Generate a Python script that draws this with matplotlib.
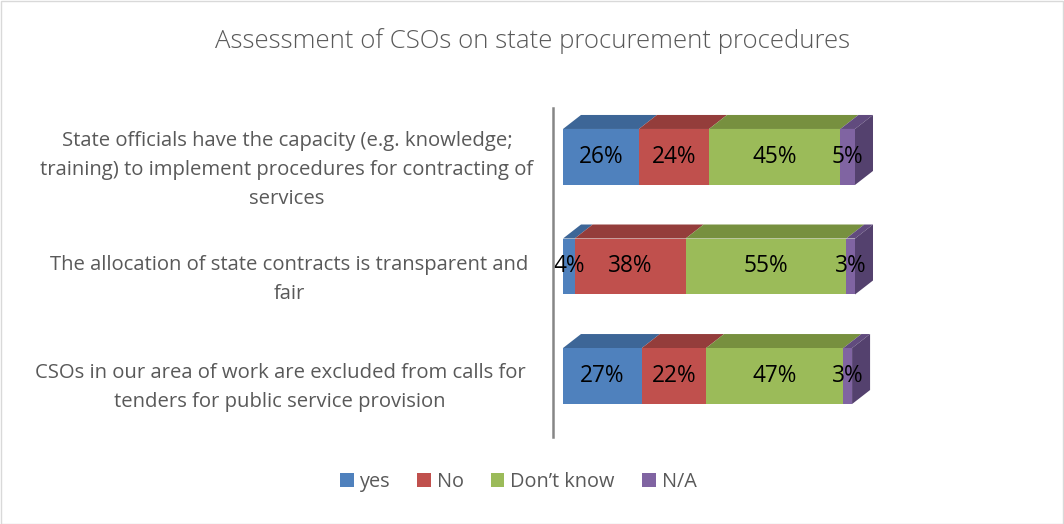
import matplotlib
matplotlib.use("Agg")
import matplotlib.pyplot as plt
from matplotlib.patches import Polygon, Rectangle
from matplotlib.lines import Line2D
import numpy as np

plt.rcParams['font.family'] = ['Open Sans', 'DejaVu Sans']

title = "Assessment of CSOs on state procurement procedures"
series = ["yes", "No", "Don\u2019t know", "N/A"]
cat_lines = [
    ["State officials have the capacity (e.g. knowledge;",
     "training) to implement procedures for contracting of",
     "services"],
    ["The allocation of state contracts is transparent and",
     "fair"],
    ["CSOs in our area of work are excluded from calls for",
     "tenders for public service provision"],
]
yes_vals = [26, 4, 27]
no_vals = [24, 38, 22]
dk_vals = [45, 55, 47]
na_vals = [5, 3, 3]

front = ["#4F81BD", "#C0504D", "#9BBB59", "#8064A2"]
top = ["#3D6697", "#943D3B", "#77903F", "#614B7E"]
side = ["#3D6697", "#943D3B", "#77903F", "#54416E"]

W, H = 1064, 524
fig = plt.figure(figsize=(W / 100, H / 100), dpi=100)
fig.patch.set_facecolor("white")
fig.add_artist(Rectangle((0.5 / W, 0.5 / H), 1 - 1.5 / W, 1 - 1.5 / H,
                         transform=fig.transFigure, fill=False,
                         edgecolor="#D9D9D9", linewidth=1))

# axes spanning the front faces
x0, x1 = 563, 855
ytop, ybot = 100, 440
ax = fig.add_axes([x0 / W, 1 - ybot / H, (x1 - x0) / W, (ybot - ytop) / H])
ax.set_xlim(0, 100)
ax.set_ylim(2.584, -0.52)
ax.axis("off")

bh = 0.511
ddx = 18 / (x1 - x0) * 100
ddy = 14 / 109.5

data = np.array([yes_vals, no_vals, dk_vals, na_vals], dtype=float)
ypos = np.arange(len(cat_lines))
left = np.zeros(len(cat_lines))
for s in range(len(series)):
    vals = data[s]
    ax.barh(ypos, vals, left=left, height=bh, color=front[s], edgecolor="none",
            label=series[s], zorder=2)
    for i in range(len(ypos)):
        l, r = left[i], left[i] + vals[i]
        yt = ypos[i] - bh / 2
        ax.add_patch(Polygon([(l, yt), (r, yt), (r + ddx, yt - ddy), (l + ddx, yt - ddy)],
                             closed=True, facecolor=top[s], edgecolor="none",
                             zorder=1, clip_on=False))
        if s == len(series) - 1:
            yb = ypos[i] + bh / 2
            ax.add_patch(Polygon([(r, yt), (r + ddx, yt - ddy), (r + ddx, yb - ddy), (r, yb)],
                                 closed=True, facecolor=side[s], edgecolor="none",
                                 zorder=3, clip_on=False))
        ax.text((l + r) / 2, ypos[i], f"{int(vals[i])}%", ha="center", va="center",
                fontsize=16.3, color="black", zorder=5, clip_on=False)
    left = left + vals

# vertical axis line
fig.add_artist(Line2D([553 / W, 553 / W], [1 - 108 / H, 1 - 437 / H],
                      transform=fig.transFigure, color="#868686", linewidth=1.8))

# category labels (baselines in px)
label_x = [287, 289, 280]
first_baseline = [146, 270, 378]
line_gap = 29
for i, lines in enumerate(cat_lines):
    for k, t in enumerate(lines):
        yy = first_baseline[i] + k * line_gap
        fig.text(label_x[i] / W, 1 - yy / H, t, ha="center", va="baseline",
                 fontsize=14.6, color="#595959")

fig.text(533 / W, 1 - 48 / H, title, ha="center", va="baseline",
         fontsize=18.5, color="#595959", fontweight="light")

handles = [Rectangle((0, 0), 1, 1, facecolor=c, edgecolor="none") for c in front]
fig.legend(handles, series, loc="center", bbox_to_anchor=(518 / W, 1 - 482 / H),
           ncol=4, frameon=False, fontsize=14.3, labelcolor="#595959",
           handlelength=0.7, handleheight=0.7, handletextpad=0.3,
           columnspacing=1.35)

fig.savefig("out.png", dpi=100, facecolor="white")
